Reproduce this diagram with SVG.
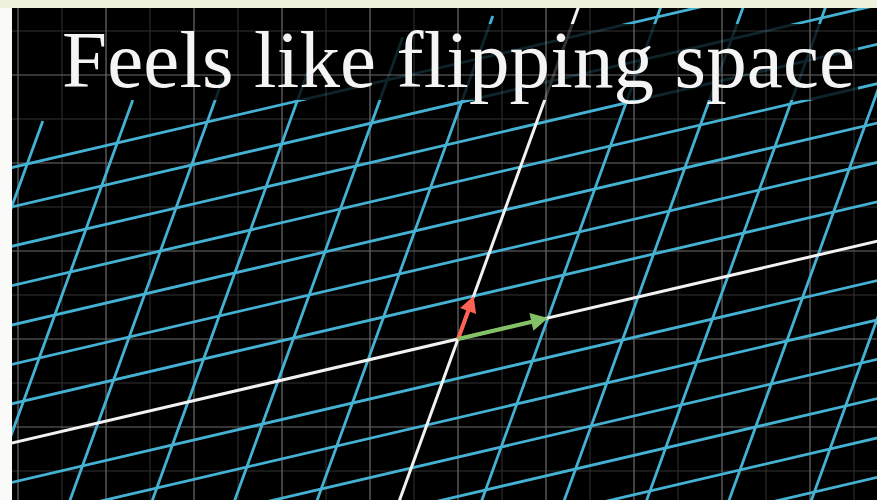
<svg xmlns="http://www.w3.org/2000/svg" width="877" height="500" viewBox="0 0 877 500">
<defs>
<style>
.maj{stroke:#6c6c6c;stroke-width:1.2}
.min{stroke:#333;stroke-width:1}
.blue line{stroke:#45b2d3;stroke-width:2.8;vector-effect:non-scaling-stroke}
.axis line{stroke:#f2f2f2;stroke-width:3;vector-effect:non-scaling-stroke}
.title{font-family:"Liberation Serif","Times New Roman",serif;font-size:81px;fill:#f4f4f4}
</style>
<clipPath id="frame"><rect x="12" y="8" width="865" height="492"/></clipPath>
<mask id="dim" maskUnits="userSpaceOnUse" x="0" y="0" width="877" height="500">
<rect width="877" height="500" fill="#fff"/>
<rect x="47" y="24" width="811" height="76" fill="#333"/>
</mask>
</defs>
<rect width="877" height="500" fill="#fafaf8"/>
<rect width="877" height="8" fill="#eef1dc"/>
<rect id="screen" x="12" y="8" width="865" height="492" fill="#000"/>
<g id="background-grid" clip-path="url(#frame)">
<g class="min">
<line x1="62" y1="0" x2="62" y2="500"/><line x1="150" y1="0" x2="150" y2="500"/><line x1="238" y1="0" x2="238" y2="500"/><line x1="326" y1="0" x2="326" y2="500"/><line x1="414" y1="0" x2="414" y2="500"/><line x1="502" y1="0" x2="502" y2="500"/><line x1="590" y1="0" x2="590" y2="500"/><line x1="678" y1="0" x2="678" y2="500"/><line x1="766" y1="0" x2="766" y2="500"/><line x1="854" y1="0" x2="854" y2="500"/>
<line x1="0" y1="31" x2="877" y2="31"/><line x1="0" y1="119" x2="877" y2="119"/><line x1="0" y1="207" x2="877" y2="207"/><line x1="0" y1="295" x2="877" y2="295"/><line x1="0" y1="383" x2="877" y2="383"/><line x1="0" y1="471" x2="877" y2="471"/>
</g>
<g class="maj">
<line x1="18" y1="0" x2="18" y2="500"/><line x1="106" y1="0" x2="106" y2="500"/><line x1="194" y1="0" x2="194" y2="500"/><line x1="282" y1="0" x2="282" y2="500"/><line x1="370" y1="0" x2="370" y2="500"/><line x1="458" y1="0" x2="458" y2="500"/><line x1="546" y1="0" x2="546" y2="500"/><line x1="634" y1="0" x2="634" y2="500"/><line x1="722" y1="0" x2="722" y2="500"/><line x1="810" y1="0" x2="810" y2="500"/>
<line x1="0" y1="75" x2="877" y2="75"/><line x1="0" y1="163" x2="877" y2="163"/><line x1="0" y1="251" x2="877" y2="251"/><line x1="0" y1="339" x2="877" y2="339"/><line x1="0" y1="427" x2="877" y2="427"/>
</g>
</g>
<g id="transformed-grid" clip-path="url(#frame)">
<g mask="url(#dim)">
<g transform="matrix(90,-21,15.6,-43,458,339)">
<g class="blue">
<line x1="-9" y1="-6" x2="9" y2="-6"/><line x1="-9" y1="-5" x2="9" y2="-5"/><line x1="-9" y1="-4" x2="9" y2="-4"/><line x1="-9" y1="-3" x2="9" y2="-3"/><line x1="-9" y1="-2" x2="9" y2="-2"/><line x1="-9" y1="-1" x2="9" y2="-1"/><line x1="-9" y1="1" x2="9" y2="1"/><line x1="-9" y1="2" x2="9" y2="2"/><line x1="-9" y1="3" x2="9" y2="3"/><line x1="-9" y1="4" x2="9" y2="4"/><line x1="-9" y1="5" x2="9" y2="5"/><line x1="-9" y1="6" x2="9" y2="6"/><line x1="-9" y1="7" x2="9" y2="7"/>
<line x1="-6" y1="-12" x2="-6" y2="8"/><line x1="-5" y1="-12" x2="-5" y2="8"/><line x1="-4" y1="-12" x2="-4" y2="8"/><line x1="-3" y1="-12" x2="-3" y2="8"/><line x1="-2" y1="-12" x2="-2" y2="8"/><line x1="-1" y1="-12" x2="-1" y2="8"/><line x1="1" y1="-12" x2="1" y2="8"/><line x1="2" y1="-12" x2="2" y2="8"/><line x1="3" y1="-12" x2="3" y2="8"/><line x1="4" y1="-12" x2="4" y2="8"/><line x1="5" y1="-12" x2="5" y2="8"/>
</g>
<g class="axis">
<line x1="-9" y1="0" x2="9" y2="0"/><line x1="0" y1="-12" x2="0" y2="8"/>
</g>
</g>
</g>
</g>
<g id="j-hat">
<line x1="458" y1="339" x2="468.6" y2="310" stroke="#fc6255" stroke-width="4"/>
<polygon points="473.6,296 476.1,313.9 460.1,308.1" fill="#fc6255"/>
</g>
<g id="i-hat">
<line x1="458" y1="339" x2="532" y2="321.8" stroke="#83c167" stroke-width="4"/>
<polygon points="548,318 533.4,330.7 529.4,313.1" fill="#83c167"/>
</g>
<text id="title" class="title" x="62" y="87" textLength="793" lengthAdjust="spacing">Feels like flipping space</text>
</svg>
